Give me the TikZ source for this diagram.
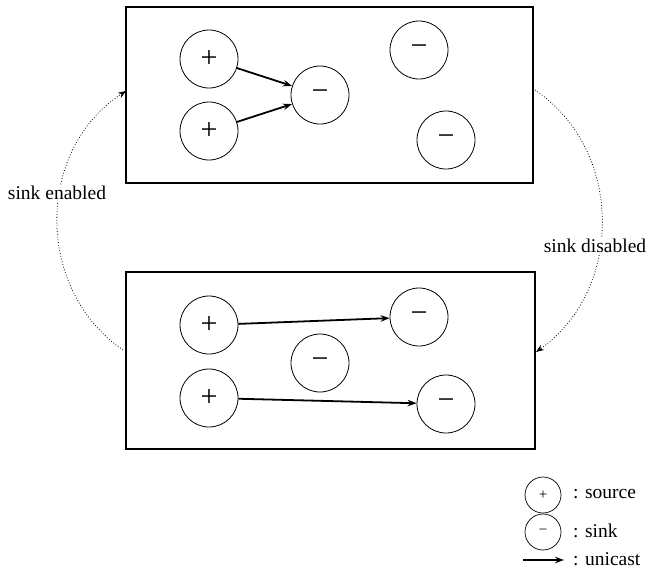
\documentclass[tikz,border=0pt]{standalone}
\usepackage{fontspec}
\setmainfont{Liberation Serif}
\newfontfamily\tnr{Liberation Serif}
\usetikzlibrary{arrows.meta}
\begin{document}
\begin{tikzpicture}[x=1pt,y=-1pt,
  box/.style={draw, line width=1.2pt, inner sep=0pt},
  st/.style={circle, draw, line width=0.8pt, minimum size=58pt, inner sep=0pt, font=\tnr\fontsize{30}{30}\selectfont},
  lgst/.style={circle, draw, line width=0.7pt, minimum size=36pt, inner sep=0pt, font=\tnr\fontsize{15}{15}\selectfont},
  unicast/.style={-{Stealth[length=9pt,width=6.5pt]}, line width=1.8pt},
  trans/.style={dotted, line width=0.8pt, -{Stealth[length=8pt,width=6pt]}},
  lbl/.style={font=\tnr\fontsize{19.5}{22}\selectfont, fill=white, inner sep=1pt},
  lgtxt/.style={font=\tnr\fontsize{19.5}{22}\selectfont, anchor=west, inner sep=0pt}]
\useasboundingbox (0,0) rectangle (650,581);
% boxes
\node[box, minimum width=407pt, minimum height=176pt] (top) at (329.5,95) {};
\node[box, minimum width=409pt, minimum height=177pt] (bot) at (330.5,360.5) {};
% top box stations
\node[st] (ta) at (209,59) {+};
\node[st] (tb) at (209,131) {+};
\node[st] (tc) at (320,95) {−};
\node[st] (td) at (419,50) {−};
\node[st] (te) at (446,140) {−};
\draw[unicast] (ta) -- (tc);
\draw[unicast] (tb) -- (tc);
% bottom box stations
\node[st] (ba) at (209,325) {+};
\node[st] (bb) at (209,398) {+};
\node[st] (bc) at (419,317) {−};
\node[st] (bd) at (320,363) {−};
\node[st] (be) at (446,404) {−};
\draw[unicast] (ba) -- (bc);
\draw[unicast] (bb) -- (be);
% transitions
\coordinate (l1) at (123,350);
\coordinate (l2) at (126,91);
\coordinate (r1) at (535,90);
\coordinate (r2) at (536,352);
\draw[trans] (l1) .. controls (35,290) and (35,150) .. (l2);
\draw[trans] (r1) .. controls (624,150) and (624,290) .. (r2);
\node[lbl] (en) at (57,193) {sink enabled};
\node[lbl] (dis) at (595,246) {sink disabled};
% legend
\node[lgst] (lsrc) at (543,495) {+};
\node[lgst] (lsnk) at (543,532) {−};
\node[lgtxt] (tsrc) at (573,494) {: source};
\node[lgtxt] (tsnk) at (573,531) {: sink};
\coordinate (ua) at (523,560);
\coordinate (ub) at (564,560);
\draw[unicast] (ua) -- (ub);
\node[lgtxt] (tuni) at (573,559) {: unicast};
\end{tikzpicture}
\end{document}
